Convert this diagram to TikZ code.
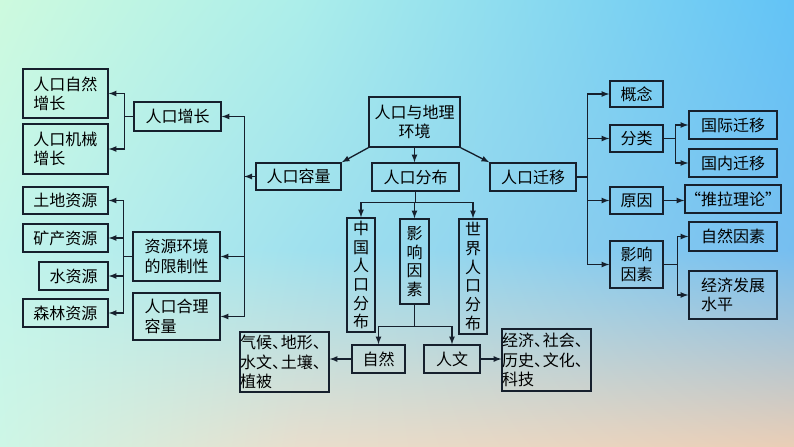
\documentclass[tikz,border=0pt]{standalone}
\usepackage{fontspec}
\setmainfont{Noto Sans CJK SC}
\usetikzlibrary{shadings}
\definecolor{bga}{RGB}{205,250,222}
\definecolor{bgb}{RGB}{172,238,234}
\definecolor{bgc}{RGB}{98,195,246}
\definecolor{bgd}{RGB}{195,245,235}
\definecolor{bge}{RGB}{160,225,238}
\definecolor{bgf}{RGB}{118,190,240}
\definecolor{bgg}{RGB}{205,246,230}
\definecolor{bgh}{RGB}{232,222,205}
\definecolor{bgi}{RGB}{234,206,182}
\definecolor{ink}{RGB}{22,32,45}
\newcommand{\dunhao}{、\hspace{-0.45em}}

\begin{document}
\begin{tikzpicture}[x=0.75pt,y=-0.75pt]
\tikzstyle{box}=[rectangle, draw=ink, line width=1.1pt, inner sep=0pt, align=left, font=\fontsize{12pt}{14.5pt}\selectfont]
\tikzstyle{vbox}=[box, align=center, font=\fontsize{12pt}{14pt}\selectfont]
\tikzset{wh/.style 2 args={minimum width=#1*0.75pt, minimum height=#2*0.75pt}}
\tikzstyle{connect}=[-latex, draw=ink, line width=1pt]
% background
\shade[upper left=bga, upper right=bgb, lower left=bgd, lower right=bge] (0,0) rectangle (300,250);
\shade[upper left=bgb, upper right=bgc, lower left=bge, lower right=bgf] (300,0) rectangle (794,250);
\shade[upper left=bgd, upper right=bge, lower left=bgg, lower right=bgh] (0,250) rectangle (300,447);
\shade[upper left=bge, upper right=bgf, lower left=bgh, lower right=bgi] (300,250) rectangle (794,447);

\node[box, wh={91}{50}, align=center] (root) at (414.5,122) {人口与地理\\环境};
\node[box, wh={85}{27}] (rl) at (298.5,176.5) {人口容量};
\node[box, wh={87}{28}] (fb) at (415.5,177) {人口分布};
\node[box, wh={86}{28}] (qy) at (533,177) {人口迁移};

% left part
\node[box, wh={87}{29}] (zz) at (177.5,116.5) {人口增长};
\node[box, wh={87}{49}] (xz) at (176.5,256.5) {资源环境\\的限制性};
\node[box, wh={87}{47}] (hl) at (176.5,316.5) {人口合理\\容量};
\node[box, wh={85}{49}] (zrzz) at (65.5,93.5) {人口自然\\增长};
\node[box, wh={85}{50}] (jxzz) at (65.5,149) {人口机械\\增长};
\node[box, wh={85}{27}] (td) at (65.5,200.5) {土地资源};
\node[box, wh={85}{28}] (kc) at (65.5,238) {矿产资源};
\node[box, wh={69}{28}] (sz) at (73.5,276) {水资源};
\node[box, wh={85}{28}] (sl) at (65.5,313) {森林资源};

% middle part
\node[vbox, wh={28}{114}] (zg) at (361,275) {中\\国\\人\\口\\分\\布};
\node[vbox, wh={29}{85}] (ys) at (414.5,261.5) {影\\响\\因\\素};
\node[vbox, wh={28}{115}] (sj) at (473,276.5) {世\\界\\人\\口\\分\\布};
\node[box, wh={53}{28}] (zr) at (378.5,359) {自然};
\node[box, wh={56}{28}] (rw) at (452,359) {人文};
\node[box, wh={87}{60}] (qh) at (284.5,362) {气候\dunhao 地形\dunhao\\水文\dunhao 土壤\dunhao\\植被};
\node[box, wh={87}{62}] (jj) at (546.5,360) {经济\dunhao 社会\dunhao\\历史\dunhao 文化\dunhao\\科技};

% right part
\node[box, wh={53}{26}] (gn) at (636.5,94) {概念};
\node[box, wh={53}{27}] (fl) at (636.5,138.5) {分类};
\node[box, wh={53}{27}] (yy) at (636.5,200.5) {原因};
\node[box, wh={53}{47}] (ysr) at (636.5,264.5) {影响\\因素};
\node[box, wh={88}{28}] (gj) at (733,125) {国际迁移};
\node[box, wh={88}{28}] (gnq) at (733,163) {国内迁移};
\node[box, wh={88}{28}] (tl) at (733,199) {“推拉理论”};
\node[box, wh={88}{29}] (zrys) at (733,236.5) {自然因素};
\node[box, wh={88}{48}] (jjfz) at (733,295) {经济发展\\水平};

\draw[connect] (root.south west) -- (rl.north east);
\draw[connect] (root.south) -- (root.south |- fb.north);
\draw[connect] (root.south east) -- (qy.north west);

\draw[connect] (rl.west) -- ++(-11,0);
\draw[connect] (rl.west) ++(-11,0) |- (zz.east);
\draw[connect] (rl.west) ++(-11,0) |- (xz.east);
\draw[connect] (rl.west) ++(-11,0) |- (hl.east);
\draw[connect] (zz.west) -- ++(-9,0) |- (zrzz.east);
\draw[connect] (zz.west) -- ++(-9,0) |- (jxzz.east);
\draw[connect] (xz.west) -- ++(-9,0) |- (td.east);
\draw[connect] (xz.west) -- ++(-9,0) |- (kc.east);
\draw[connect] (xz.west) -- ++(-9,0) |- (sz.east);
\draw[connect] (xz.west) -- ++(-9,0) |- (sl.east);

\draw[connect] (fb.south) -- ++(0,11) -| (zg.north);
\draw[connect] (fb.south) -- ++(0,11) -| (ys.north);
\draw[connect] (fb.south) -- ++(0,11) -| (sj.north);
\draw[connect] (ys.south) -- ++(0,22) -| (zr.north);
\draw[connect] (ys.south) -- ++(0,22) -| (rw.north);
\draw[connect] (zr.west) -- (zr.west -| qh.east);
\draw[connect] (rw.east) -- (rw.east -| jj.west);

\draw[connect] (qy.east) -- ++(11,0) |- (gn.west);
\draw[connect] (qy.east) -- ++(11,0) |- (fl.west);
\draw[connect] (qy.east) -- ++(11,0) |- (yy.west);
\draw[connect] (qy.east) -- ++(11,0) |- (ysr.west);
\draw[connect] (fl.east) -- ++(12,0) |- (gj.west);
\draw[connect] (fl.east) -- ++(12,0) |- (gnq.west);
\draw[connect] (yy.east) -- (yy.east -| tl.west);
\draw[connect] (ysr.east) -- ++(14,0) |- (zrys.west);
\draw[connect] (ysr.east) -- ++(14,0) |- (jjfz.west);
\end{tikzpicture}
\end{document}
